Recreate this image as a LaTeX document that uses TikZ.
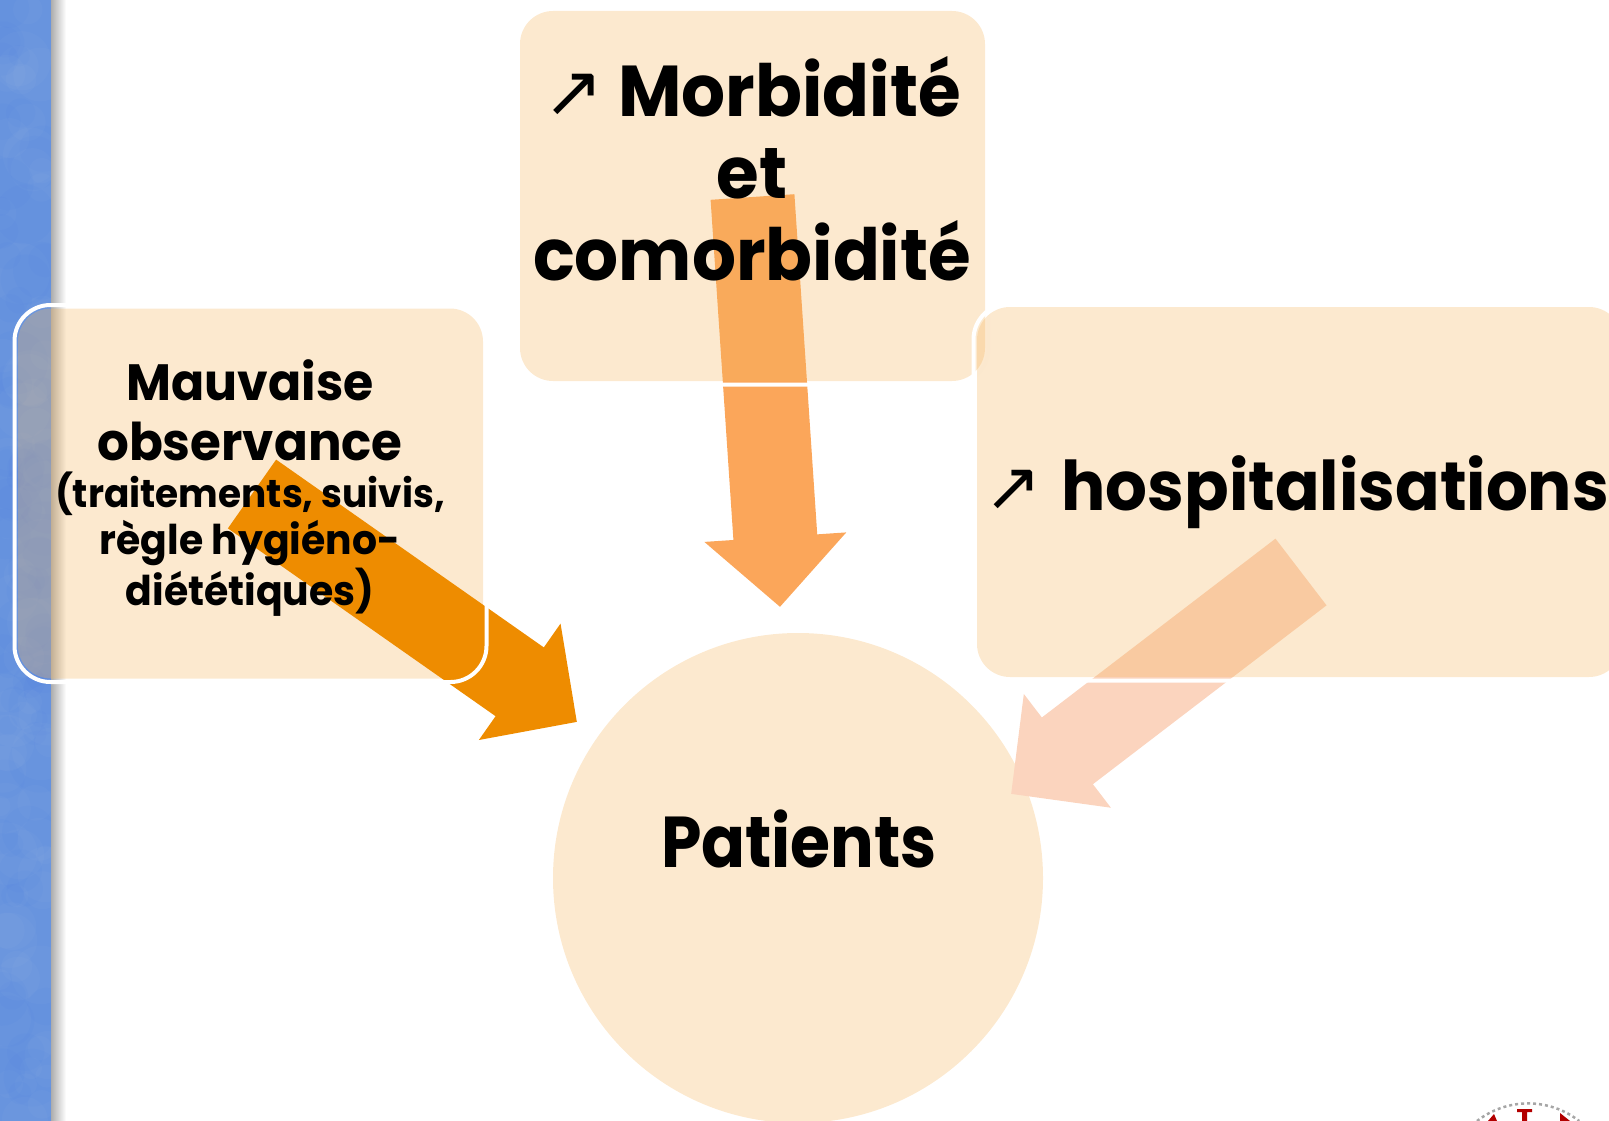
\documentclass[tikz,border=0pt]{standalone}
\usepackage{fontspec}
\setmainfont{Poppins}[BoldFont={Poppins Bold},BoldFeatures={FakeStretch=0.96}]
\newfontfamily\narrowbold{Poppins Bold}[FakeStretch=0.9]
\newfontfamily\symb{DejaVu Sans}
\usepackage{tikz}
\usetikzlibrary{arrows.meta,shadings}
\definecolor{bandblue}{RGB}{104,148,222}
\definecolor{boxtint}{RGB}{245,182,95}
\definecolor{arrowone}{RGB}{238,140,0}
\definecolor{arrowtwo}{RGB}{251,166,90}
\definecolor{arrowthree}{RGB}{251,212,190}
\begin{document}
\begin{tikzpicture}[x=1pt,y=-1pt]
\tikzstyle{box} = [rectangle, fill=boxtint, fill opacity=.3, rounded corners=33pt,
minimum width=465pt, minimum height=370pt, inner sep=0pt, outer sep=0pt]
\tikzstyle{boxline} = [rectangle, draw=white, line width=4pt, rounded corners=36pt,
minimum width=472pt, minimum height=377pt, inner sep=0pt, outer sep=0pt]
\tikzstyle{round_box} = [circle, fill=boxtint, fill opacity=.3, minimum size=490pt,
inner sep=0pt, outer sep=0pt]
\tikzstyle{label} = [align=center, inner sep=0pt, text=black, font=\bfseries]
\tikzstyle{line} = [line width=84pt];
\useasboundingbox (0,0) rectangle (1609,1121);
\clip (0,0) rectangle (1609,1121);
% band on the left
\node [rectangle, fill=bandblue, minimum width=51pt, minimum height=1121pt, inner sep=0pt, outer sep=0pt, anchor=north west] (band) at (0,0) {};
\begin{scope}
\clip (0,0) rectangle (51,1121);
\pgfmathsetseed{7}
\foreach \i in {1,...,70} {
\fill [white, opacity=.025] (rnd*51,rnd*1121) circle [radius=8+rnd*24];
\fill [blue!70!cyan, opacity=.02] (rnd*51,rnd*1121) circle [radius=8+rnd*24];
}
\end{scope}
\node [rectangle, left color=black!32, right color=white, minimum width=15pt, minimum height=1121pt, inner sep=0pt, outer sep=0pt, anchor=north west] (bandedge) at (51,0) {};
% patients
\node [round_box] (patients) at (798,878) {};
% ends of the arrows
\coordinate (morbi_tail) at (752.5,197);
\coordinate (morbi_tip) at (780,607);
\coordinate (hosp_tail) at (1301,572);
\coordinate (hosp_tip) at (1011,794);
\coordinate (obs_tail) at (252,494);
\coordinate (obs_tip) at (577,722);
\draw [line, draw=arrowtwo, -{Triangle[length=70pt,width=138pt]}] (morbi_tail) -- (morbi_tip);
\draw [line, draw=arrowthree, -{Triangle[length=71pt,width=139pt]}] (hosp_tail) -- (hosp_tip);
% the three boxes
\node [box] (morbi) at (752.5,196) {};
\node [boxline] (morbi_line) at (morbi) {};
\node [box, minimum width=645pt] (hosp) at (1299.5,492) {};
\node [boxline, minimum width=652pt] (hosp_line) at (hosp) {};
\node [box] (obs) at (250.5,493.5) {};
\draw [line, draw=arrowone, -{Triangle[length=70pt,width=138pt]}] (obs_tail) -- (obs_tip);
\node [boxline] (obs_line) at (obs) {};
% texts
\node [label, font=\bfseries\fontsize{72}{82}\selectfont] (morbi_txt) at (752,169) {{\symb\mdseries ↗} Morbidité\\et\\comorbidité};
\node [label] (obs_txt) at (250,488) {\fontsize{51}{46.5}\selectfont Mauvaise\\[20.5pt]
\fontsize{52}{46.5}\selectfont observance\\[9.5pt]
\fontsize{39}{46.5}\selectfont (traitements, suivis,\\[4pt]
\fontsize{41}{46.5}\selectfont règle hygiéno-\\[1pt]
\fontsize{41}{46.5}\selectfont diététiques)};
\node [label, font=\bfseries\fontsize{68.5}{82}\selectfont, anchor=base west] (hosp_txt) at (984,510) {{\symb\mdseries ↗}\hspace{6pt} hospitalisations};
\node [label, font=\narrowbold\fontsize{72}{82}\selectfont, anchor=base] (patients_txt) at (799,867) {Patients};
% logo in the corner
\draw [gray!70, line width=2.5pt, dashed] (1477,1121) arc [start angle=-128, end angle=-52, radius=83] coordinate (logo_end);
\fill [red!70!black] (1517,1109) rectangle (1532,1112) (1522,1112) rectangle (1527,1121)
(1488,1121) -- (1494,1114) -- (1497,1121) -- cycle (1560,1113) -- (1570,1121) -- (1560,1121) -- cycle;
\end{tikzpicture}
\end{document}
